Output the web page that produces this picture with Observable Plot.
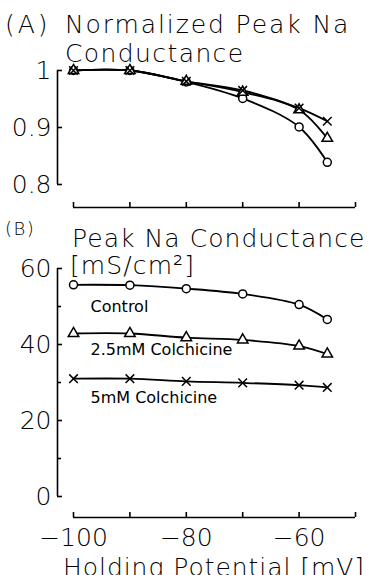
<!DOCTYPE html>
<html>
<head>
<meta charset="utf-8">
<script src="https://cdn.jsdelivr.net/npm/d3@7"></script>
<script src="https://cdn.jsdelivr.net/npm/@observablehq/plot@0.6"></script>
<style>
  body { margin: 0; background: #fff; }
  #chart { position: relative; width: 371px; height: 575px; overflow: hidden; }
  #chart > svg { position: absolute; left: 0; font-family: "DejaVu Sans", sans-serif; font-size: 25px; font-weight: 200; }
  .t { position: absolute; white-space: pre; line-height: 1; font-family: "DejaVu Sans", sans-serif; font-weight: 200; color: #000; z-index: 2; }
</style>
</head>
<body>
<div id="chart"></div>
<script>
// Holding potentials (mV)
const potentials = [-100, -90, -80, -70, -60, -55];

// (A) peak Na conductance normalized to the value at -100 mV
const normControl = [1.0, 1.0, 0.98, 0.951, 0.901, 0.839];
const normColch25 = [1.0, 1.0, 0.981, 0.962, 0.931, 0.881];
const normColch5  = [1.0, 1.0, 0.981, 0.965, 0.934, 0.911];

// (B) peak Na conductance, mS/cm²
const gControl = [55.7, 55.6, 54.7, 53.3, 50.5, 46.6];
const gColch25 = [42.9, 42.9, 41.8, 41.2, 39.6, 37.5];
const gColch5  = [31.0, 31.0, 30.3, 29.9, 29.3, 28.7];

const seriesNames = ["Control", "2.5mM Colchicine", "5mM Colchicine"];

// axes
const xDomain = [-100, -50];
const xTicks = [-100, -90, -80, -70, -60, -50];
const xTickLabels = [-100, -80, -60];
const yDomainA = [0.8, 1];
const yTicksA = [0.8, 0.9, 1];
const yDomainB = [0, 60];
const yMajorB = [0, 20, 40, 60];
const yMinorB = [10, 30, 50];

const toRows = (values, name) => potentials.map((x, i) => ({x, y: values[i], series: name}));
const rowsA = [toRows(normControl, seriesNames[0]), toRows(normColch25, seriesNames[1]), toRows(normColch5, seriesNames[2])];
const rowsB = [toRows(gControl, seriesNames[0]), toRows(gColch25, seriesNames[1]), toRows(gColch5, seriesNames[2])];

const ink = "#000";
const axisWidth = 1.6;
const axisShift = -16;   // y axis sits left of the first data column
const minus = d => String(d).replace("-", "\u2212");

function seriesMarks(rows) {
  return [
    Plot.line(rows.flat(), {x: "x", y: "y", z: "series", curve: "catmull-rom", stroke: ink, strokeWidth: 1.8}),
    Plot.dot(rows[0], {x: "x", y: "y", symbol: "circle", r: 4, fill: "white", stroke: ink, strokeWidth: 1.5}),
    Plot.dot(rows[1], {x: "x", y: "y", symbol: "triangle", r: 3.9, fill: "white", stroke: ink, strokeWidth: 1.5}),
    Plot.dot(rows[2], {x: "x", y: "y", symbol: "times", r: 4, stroke: ink, strokeWidth: 1.5})
  ];
}

// Panel A: normalized conductance
const plotA = Plot.plot({
  width: 371, height: 215,
  marginTop: 70, marginBottom: 31, marginLeft: 73, marginRight: 16,
  x: {domain: xDomain},
  y: {domain: yDomainA},
  marks: [
    Plot.ruleX([xDomain[0]], {y1: yDomainA[0], y2: yDomainA[1], dx: axisShift, stroke: ink, strokeWidth: axisWidth}),
    Plot.ruleY([yDomainA[0]], {x1: xDomain[0], x2: xDomain[1], dy: 23, stroke: ink, strokeWidth: axisWidth}),
    Plot.axisY({ticks: yTicksA, tickSize: -5, tickPadding: 11, dx: axisShift, label: null, tickFormat: d => String(d), stroke: ink, strokeWidth: axisWidth}),
    Plot.axisX({ticks: xTicks, tickSize: -5, dy: 23, label: null, tickFormat: () => "", stroke: ink, strokeWidth: axisWidth}),
    ...seriesMarks(rowsA)
  ]
});

// Panel B: absolute conductance
const plotB = Plot.plot({
  width: 371, height: 360,
  marginTop: 53, marginBottom: 79, marginLeft: 73, marginRight: 16,
  x: {domain: xDomain},
  y: {domain: yDomainB},
  marks: [
    Plot.ruleX([xDomain[0]], {y1: yDomainB[0], y2: yDomainB[1], dx: axisShift, stroke: ink, strokeWidth: axisWidth}),
    Plot.ruleY([yDomainB[0]], {x1: xDomain[0], x2: xDomain[1], dy: 21, stroke: ink, strokeWidth: axisWidth}),
    Plot.axisY({ticks: yMajorB, tickSize: -5, tickPadding: 11, dx: axisShift, label: null, tickFormat: d => String(d), stroke: ink, strokeWidth: axisWidth}),
    Plot.axisY({ticks: yMinorB, tickSize: -4, dx: axisShift, label: null, tickFormat: () => "", stroke: ink, strokeWidth: axisWidth}),
    Plot.axisX({ticks: xTicks, tickSize: -5, dy: 21, label: null, tickFormat: () => "", stroke: ink, strokeWidth: axisWidth}),
    Plot.text(xTickLabels, {x: d => d, text: minus, frameAnchor: "bottom", lineAnchor: "top", dy: 32, fill: ink}),
    ...seriesMarks(rowsB),
    Plot.text([rowsB[0][0]], {x: "x", y: "y", text: "series", textAnchor: "start", dx: 17, dy: 22, fontSize: 16, fontWeight: 400, fill: ink}),
    Plot.text([rowsB[1][0]], {x: "x", y: "y", text: "series", textAnchor: "start", dx: 17, dy: 16, fontSize: 16, fontWeight: 400, fill: ink}),
    Plot.text([rowsB[2][0]], {x: "x", y: "y", text: "series", textAnchor: "start", dx: 17, dy: 19, fontSize: 16, fontWeight: 400, fill: ink})
  ]
});

const chart = document.getElementById("chart");
plotA.style.top = "0px";
plotB.style.top = "215px";
chart.append(plotA, plotB);

// panel titles and axis caption
const titles = [
  {text: "(A)", left: 5, top: 12, size: 25, spacing: 3},
  {text: "Normalized Peak Na", left: 65, top: 12, size: 25, spacing: 1.9},
  {text: "Conductance", left: 65, top: 41, size: 25, spacing: 1.4},
  {text: "(B)", left: 5, top: 220, size: 18, spacing: 1.5},
  {text: "Peak Na Conductance", left: 72, top: 226, size: 25, spacing: 1.05},
  {text: "[mS/cm²]", left: 70, top: 253, size: 25, spacing: 1.1},
  {text: "Holding Potential [mV]", left: 63, top: 555, size: 25, spacing: 0.95}
];
for (const t of titles) {
  const div = document.createElement("div");
  div.className = "t";
  div.textContent = t.text;
  Object.assign(div.style, {left: t.left + "px", top: t.top + "px", fontSize: t.size + "px", letterSpacing: t.spacing + "px"});
  chart.append(div);
}
</script>
</body>
</html>
